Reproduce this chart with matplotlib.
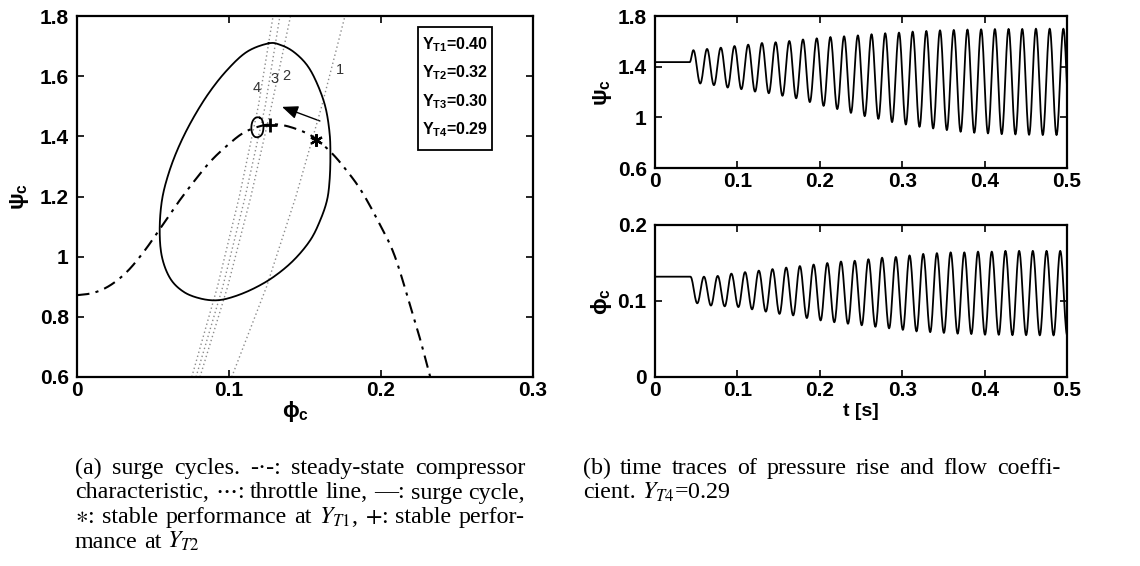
import numpy as np
import matplotlib
matplotlib.use("Agg")
import matplotlib.pyplot as plt
from matplotlib.patches import Rectangle, FancyArrowPatch

plt.rcParams['font.family'] = ['Liberation Sans', 'DejaVu Sans']
plt.rcParams['mathtext.fontset'] = 'custom'
plt.rcParams['mathtext.rm'] = 'Liberation Sans:bold'
plt.rcParams['mathtext.it'] = 'Liberation Sans:bold'
plt.rcParams['mathtext.bf'] = 'Liberation Sans:bold'
plt.rcParams['mathtext.sf'] = 'Liberation Sans'

# ---------------- data ----------------
# steady-state compressor characteristic
char_phi = [0, 0.011, 0.0219, 0.0329, 0.0439, 0.0548, 0.0658, 0.0768, 0.0877, 0.0987,
            0.1096, 0.1206, 0.1294, 0.1382, 0.1491, 0.1568, 0.1667, 0.1754, 0.1864,
            0.1974, 0.2083, 0.2182, 0.2255, 0.2324]
char_psi = [0.872, 0.880, 0.905, 0.950, 1.016, 1.094, 1.175, 1.249, 1.316, 1.369,
            1.412, 1.434, 1.440, 1.434, 1.415, 1.393, 1.349, 1.299, 1.224,
            1.125, 1.012, 0.855, 0.73, 0.60]

# surge cycle (large loop)
loop_phi = [0.1260, 0.1338, 0.1425, 0.1513, 0.1579, 0.1634, 0.1662, 0.1667, 0.1662, 0.1645,
            0.1601, 0.1535, 0.1425, 0.1294, 0.1162, 0.1031, 0.0921, 0.0811, 0.0702, 0.0614,
            0.0559, 0.0544, 0.0559, 0.0603, 0.0669, 0.0757, 0.0866, 0.0987, 0.1118]
loop_psi = [1.709, 1.704, 1.681, 1.637, 1.576, 1.498, 1.410, 1.332, 1.255, 1.188,
            1.122, 1.055, 0.988, 0.933, 0.894, 0.867, 0.855, 0.861, 0.883, 0.927,
            0.999, 1.088, 1.188, 1.277, 1.365, 1.454, 1.543, 1.620, 1.681]

# small loop near the peak
small_phi = [0.1203, 0.1220, 0.1227, 0.1220, 0.1200, 0.1172, 0.1153, 0.1147, 0.1155, 0.1176]
small_psi = [1.462, 1.452, 1.432, 1.410, 1.399, 1.398, 1.410, 1.430, 1.450, 1.462]

# throttle lines 1..4 (phi at given psi levels)
throttle_psi = [0.6, 0.9, 1.2, 1.5, 1.8]
throttle_phi = {
    '1': [0.1018, 0.1247, 0.1440, 0.1610, 0.1763],
    '2': [0.0809, 0.0991, 0.1144, 0.1279, 0.1405],
    '3': [0.0783, 0.0959, 0.1107, 0.1238, 0.1335],
    '4': [0.0755, 0.0924, 0.1068, 0.1193, 0.1290],
}
label_pos = {'1': (0.1728, 1.62), '2': (0.1377, 1.60), '3': (0.1298, 1.59), '4': (0.1180, 1.56)}

star_pt = (0.157, 1.389)
plus_pt = (0.127, 1.437)
arrow_tail = (0.1598, 1.451)
arrow_head = (0.1349, 1.498)

legend_lines = [r'$Y_{T1}$=0.40', r'$Y_{T2}$=0.32', r'$Y_{T3}$=0.30', r'$Y_{T4}$=0.29']

# time traces: flat start, then extrema
psi_flat = (0.0422, 1.436)
psi_peak_t = [0.0466, 0.0632, 0.0799, 0.0965, 0.1131, 0.1298, 0.1464, 0.1630, 0.1796, 0.1963,
              0.2129, 0.2295, 0.2462, 0.2628, 0.2794, 0.2961, 0.3127, 0.3293, 0.3459, 0.3626,
              0.3792, 0.3958, 0.4125, 0.4291, 0.4457, 0.4623, 0.4790, 0.4956]
psi_peak_v = [1.53, 1.54, 1.55, 1.563, 1.574, 1.587, 1.593, 1.603, 1.615, 1.624,
              1.634, 1.640, 1.647, 1.656, 1.664, 1.669, 1.677, 1.682, 1.687, 1.690,
              1.693, 1.695, 1.697, 1.698, 1.698, 1.700, 1.700, 1.700]
psi_trough_t = [0.0549, 0.0715, 0.0882, 0.1048, 0.1214, 0.1381, 0.1547, 0.1713, 0.1879, 0.2046,
                0.2212, 0.2378, 0.2545, 0.2711, 0.2877, 0.3044, 0.3210, 0.3376, 0.3542, 0.3709,
                0.3875, 0.4041, 0.4208, 0.4374, 0.4540, 0.4706, 0.4873, 0.5039]
psi_trough_v = [1.267, 1.254, 1.235, 1.222, 1.203, 1.190, 1.170, 1.150, 1.120, 1.090,
                1.065, 1.035, 1.009, 0.988, 0.962, 0.943, 0.925, 0.912, 0.899, 0.886,
                0.878, 0.873, 0.867, 0.865, 0.862, 0.860, 0.860, 0.860]

phi_flat = (0.043, 0.132)
phi_trough_t = [0.0513, 0.0679, 0.0846, 0.1012, 0.1178, 0.1345, 0.1511, 0.1677, 0.1843, 0.2010,
                0.2176, 0.2342, 0.2509, 0.2675, 0.2841, 0.3008, 0.3174, 0.3340, 0.3506, 0.3673,
                0.3839, 0.4005, 0.4172, 0.4338, 0.4504, 0.4670, 0.4837, 0.5003]
phi_trough_v = [0.097, 0.094, 0.093, 0.092, 0.089, 0.086, 0.083, 0.081, 0.0775, 0.0744,
                0.072, 0.070, 0.068, 0.066, 0.064, 0.062, 0.060, 0.059, 0.058, 0.057,
                0.0565, 0.0556, 0.0555, 0.055, 0.055, 0.0548, 0.0547, 0.0547]
phi_peak_t = [0.0594, 0.0761, 0.0927, 0.1093, 0.1260, 0.1426, 0.1592, 0.1758, 0.1925, 0.2091,
              0.2257, 0.2424, 0.2590, 0.2756, 0.2923, 0.3089, 0.3255, 0.3421, 0.3588, 0.3754,
              0.3920, 0.4087, 0.4253, 0.4419, 0.4585, 0.4752, 0.4918]
phi_peak_v = [0.132, 0.133, 0.136, 0.138, 0.140, 0.142, 0.144, 0.146, 0.148, 0.150,
              0.152, 0.153, 0.155, 0.157, 0.158, 0.160, 0.162, 0.163, 0.164, 0.164,
              0.165, 0.165, 0.166, 0.166, 0.166, 0.166, 0.166]

cap_a = [["(a)", "surge", "cycles.", "-·-:", "steady-state", "compressor"],
         ["characteristic,", r"$\cdots$:", "throttle", "line,", "—:", "surge", "cycle,"],
         [r"$\ast$:", "stable", "performance", "at", r"$Y_{T1}$,", r"$+$:", "stable", "perfor-"],
         ["mance", "at", r"$Y_{T2}$"]]
cap_b = [["(b)", "time", "traces", "of", "pressure", "rise", "and", "flow", "coeffi-"],
         ["cient.", r"$Y_{T4}$=0.29"]]


# ---------------- helpers (drawing only) ----------------
def catmull(x, y, closed=False, n=14):
    P = np.column_stack([x, y]).astype(float)
    N = len(P)
    if not closed:
        P = np.vstack([P[0], P, P[-1]])
    out = []
    s = np.linspace(0, 1, n, endpoint=False)[:, None]
    rng = range(N) if closed else range(1, N)
    for i in rng:
        if closed:
            p0, p1, p2, p3 = P[(i - 1) % N], P[i], P[(i + 1) % N], P[(i + 2) % N]
        else:
            p0, p1, p2, p3 = P[i - 1], P[i], P[i + 1], P[i + 2]
        out.append(0.5 * ((2 * p1) + (-p0 + p2) * s + (2 * p0 - 5 * p1 + 4 * p2 - p3) * s ** 2
                          + (-p0 + 3 * p1 - 3 * p2 + p3) * s ** 3))
    out.append((P[0] if closed else P[-2])[None, :])
    out = np.vstack(out)
    return out[:, 0], out[:, 1]


def wave(knots_t, knots_v, n=16):
    ts, vs = [], []
    s = np.linspace(0, 1, n, endpoint=False)
    for i in range(len(knots_t) - 1):
        ts.append(knots_t[i] + (knots_t[i + 1] - knots_t[i]) * s)
        vs.append(knots_v[i] + (knots_v[i + 1] - knots_v[i]) * (1 - np.cos(np.pi * s)) / 2)
    ts.append([knots_t[-1]])
    vs.append([knots_v[-1]])
    return np.concatenate(ts), np.concatenate(vs)


W, H = 1140, 566
fig = plt.figure(figsize=(W / 100, H / 100), dpi=100)


def add_ax(x0, y0, x1, y1):
    return fig.add_axes([x0 / W, 1 - y1 / H, (x1 - x0) / W, (y1 - y0) / H])


tickfont = dict(fontsize=15, fontweight='bold')


def style(ax, xt, xl, yt, yl):
    ax.set_xticks(xt)
    ax.set_xticklabels(xl, **tickfont)
    ax.set_yticks(yt)
    ax.set_yticklabels(yl, **tickfont)
    ax.tick_params(direction='in', length=5, width=1.2, top=True, right=True)
    ax.tick_params(axis='x', pad=3)
    ax.tick_params(axis='y', pad=6)
    for sp in ax.spines.values():
        sp.set_linewidth(1.6)


# ---------------- left panel ----------------
axL = add_ax(77, 16, 533, 377)
for k, ph in throttle_phi.items():
    axL.plot(ph, throttle_psi, ls=(0, (1, 2)), color='#8c8c8c', lw=1.0)
    axL.text(*label_pos[k], k, fontsize=10.5, color='#333333', ha='center', va='center')
cx, cy = catmull(char_phi, char_psi)
axL.plot(cx, cy, color='black', lw=1.5, ls=(0, (6, 3, 1.5, 3)))
lx, ly = catmull(loop_phi, loop_psi, closed=True)
axL.plot(lx, ly, color='black', lw=1.3)
sx, sy = catmull(small_phi, small_psi, closed=True)
axL.plot(sx, sy, color='black', lw=1.3)
axL.plot(*plus_pt, marker='+', ms=10, mew=2, color='black', ls='none')
axL.plot(*star_pt, marker=(6, 2, 0), ms=9, mew=1.6, color='black', ls='none')
axL.add_patch(FancyArrowPatch(arrow_tail, arrow_head, arrowstyle='-|>,head_length=6,head_width=2.5',
                              color='black', lw=1.0, mutation_scale=1.6, shrinkA=0, shrinkB=0))
axL.set_xlim(0, 0.3)
axL.set_ylim(0.6, 1.8)
style(axL, [0, 0.1, 0.2, 0.3], ['0', '0.1', '0.2', '0.3'],
      [0.6, 0.8, 1.0, 1.2, 1.4, 1.6, 1.8], ['0.6', '0.8', '1', '1.2', '1.4', '1.6', '1.8'])
axL.set_ylabel(r'$\mathrm{\psi}_{\mathbf{c}}$', fontsize=16)
axL.yaxis.set_label_coords(-0.10, 0.5)
axL.set_xlabel(r'$\mathrm{\phi}_{\mathbf{c}}$', fontsize=16)
axL.xaxis.set_label_coords(0.48, -0.06)

axL.add_patch(Rectangle((0.748, 0.629), 0.163, 0.34, transform=axL.transAxes,
                        facecolor='white', edgecolor='black', lw=1.3, zorder=5))
for i, s in enumerate(legend_lines):
    axL.text(0.83, [0.920, 0.842, 0.762, 0.684][i], s, transform=axL.transAxes,
             ha='center', va='center', fontsize=11.5, fontweight='bold', zorder=6)

# ---------------- right panels ----------------
axT = add_ax(655, 16, 1067, 168)
kt = [0, psi_flat[0]]
kv = [psi_flat[1], psi_flat[1]]
for i in range(len(psi_peak_t)):
    kt += [psi_peak_t[i], psi_trough_t[i]]
    kv += [psi_peak_v[i], psi_trough_v[i]]
tt, vv = wave(kt, kv)
axT.plot(tt, vv, color='black', lw=1.3)
axT.set_xlim(0, 0.5)
axT.set_ylim(0.6, 1.8)
style(axT, [0, 0.1, 0.2, 0.3, 0.4, 0.5], ['0', '0.1', '0.2', '0.3', '0.4', '0.5'],
      [0.6, 1.0, 1.4, 1.8], ['0.6', '1', '1.4', '1.8'])
axT.set_ylabel(r'$\mathrm{\psi}_{\mathbf{c}}$', fontsize=16)
axT.yaxis.set_label_coords(-0.10, 0.5)

axB = add_ax(655, 225, 1067, 377)
kt = [0, phi_flat[0]]
kv = [phi_flat[1], phi_flat[1]]
for i in range(len(phi_trough_t)):
    kt.append(phi_trough_t[i]); kv.append(phi_trough_v[i])
    if i < len(phi_peak_t):
        kt.append(phi_peak_t[i]); kv.append(phi_peak_v[i])
tt, vv = wave(kt, kv)
axB.plot(tt, vv, color='black', lw=1.3)
axB.set_xlim(0, 0.5)
axB.set_ylim(0, 0.2)
style(axB, [0, 0.1, 0.2, 0.3, 0.4, 0.5], ['0', '0.1', '0.2', '0.3', '0.4', '0.5'],
      [0, 0.1, 0.2], ['0', '0.1', '0.2'])
axB.set_ylabel(r'$\mathrm{\phi}_{\mathbf{c}}$', fontsize=16)
axB.yaxis.set_label_coords(-0.10, 0.5)
axB.set_xlabel('t [s]', fontsize=14, fontweight='bold')
axB.xaxis.set_label_coords(0.5, -0.17)

# ---------------- captions ----------------
fig.canvas.draw()
renderer = fig.canvas.get_renderer()
SERIF = dict(family='Liberation Serif', math_fontfamily='stix', va='baseline')


def fit_size(words, width, gap):
    probe = [fig.text(0, 0, w, fontsize=10, **SERIF) for w in words]
    pw = sum(t.get_window_extent(renderer).width for t in probe)
    for t in probe:
        t.remove()
    return 10 * (width - gap * (len(words) - 1)) / pw


# caption size: the tightest justified line keeps ~6 px word gaps
CAP_FS = min(fit_size(cap_a[1], 525 - 75, 6.0), fit_size(cap_b[0], 1060 - 583, 6.0))


def caption(lines, x0, x1, y0, dy, fs):
    for li, words in enumerate(lines):
        y = 1 - (y0 + li * dy) / H
        texts = [fig.text(0, y, w, fontsize=fs, **SERIF) for w in words]
        widths = [t.get_window_extent(renderer).width for t in texts]
        last = li == len(lines) - 1
        if last:
            gap = fs * 100 / 72 * 0.25
        else:
            gap = (x1 - x0 - sum(widths)) / (len(words) - 1)
        x = x0
        for t, w in zip(texts, widths):
            t.set_x(x / W)
            x += w + gap


caption(cap_a, 75, 525, 474, 24.5, CAP_FS)
caption(cap_b, 583, 1060, 474, 24.5, CAP_FS)

fig.savefig('out.png', dpi=100)
